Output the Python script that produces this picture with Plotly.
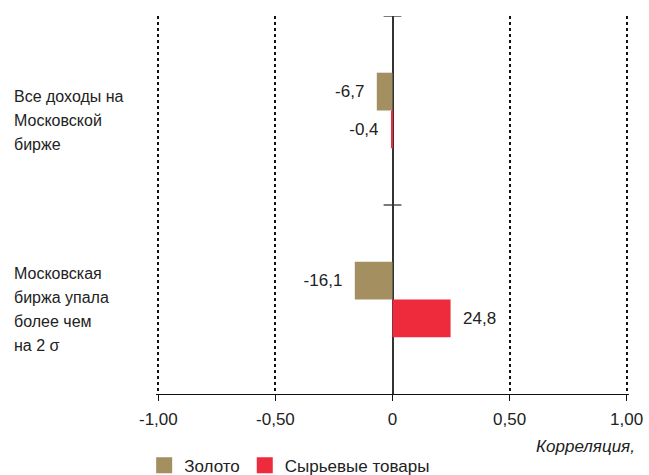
import plotly.graph_objects as go

categories = ["Все доходы на<br>Московской<br>бирже",
              "Московская<br>биржа упала<br>более чем<br>на 2 σ"]
series_names = ["Золото", "Сырьевые товары"]
gold_values = [-6.7, -16.1]
commod_values = [-0.4, 24.8]
colors = ["#A38F5F", "#EE2B3C"]
tick_vals = [-1, -0.5, 0, 0.5, 1]
tick_text = ["-1,00", "-0,50", "0", "0,50", "1,00"]
axis_title = "Корреляция,"

FONT = "Liberation Sans"
TXT = "#222222"


def fmt(v):
    s = f"{v:.1f}".replace(".", ",")
    pad = "\u00a0\u00a0"
    return s + pad if v < 0 else pad + s


ypos = list(range(len(categories)))
fig = go.Figure()
for name, vals, col in zip(series_names, [gold_values, commod_values], colors):
    fig.add_trace(go.Bar(
        name=name, orientation="h", y=ypos, x=[v / 100 for v in vals],
        marker=dict(color=col, line=dict(width=0)),
        text=[fmt(v) for v in vals], textposition="outside",
        textfont=dict(size=17, color=TXT, family=FONT),
        cliponaxis=False, showlegend=False,
    ))
# legend entries with larger square swatches
for name, col in zip(series_names, colors):
    fig.add_trace(go.Scatter(
        name=name, x=[None], y=[None], mode="markers",
        marker=dict(symbol="square", size=16, color=col), showlegend=True,
    ))

# category labels, left-aligned, line by line
LINE_H = 24
for i, c in enumerate(categories):
    lines = c.split("<br>")
    n = len(lines)
    for j, ln in enumerate(lines):
        fig.add_annotation(x=-0.3044, xref="paper", y=i, yref="y", text=ln,
                           showarrow=False, xanchor="left", align="left", yanchor="middle",
                           yshift=-((j - (n - 1) / 2) * LINE_H) - 10,
                           font=dict(size=16, color=TXT, family=FONT))

# ticks on zero line at category boundaries
for b in [i - 0.5 for i in ypos]:
    fig.add_shape(type="line", xref="x", yref="y", x0=-0.038, x1=0.038,
                  y0=b, y1=b, line=dict(color="#333333", width=1.3))

fig.add_annotation(x=1.017, xref="paper", y=-0.14, yref="paper", text=axis_title,
                   showarrow=False, xanchor="right", yanchor="middle",
                   font=dict(size=17, color=TXT, family=FONT, style="italic"))

fig.update_layout(
    width=649, height=475,
    margin=dict(l=156, r=20, t=16, b=81, autoexpand=False),
    paper_bgcolor="white", plot_bgcolor="white",
    barmode="group", bargap=0.6, bargroupgap=0,
    font=dict(family=FONT, size=17, color=TXT),
    showlegend=True,
    legend=dict(orientation="h", x=-0.025, xanchor="left", y=-0.19, yanchor="middle",
                font=dict(size=17, color=TXT, family=FONT),
                traceorder="normal", itemwidth=30, tracegroupgap=0),
    xaxis=dict(range=[-1.01, 1.01], tickvals=tick_vals, ticktext=tick_text,
               showgrid=True, gridcolor="#111111", griddash="dot", gridwidth=1.5,
               zeroline=True, zerolinecolor="#333333", zerolinewidth=1.5,
               showline=True, linecolor="#111111", linewidth=1.2,
               ticks="outside", ticklen=6, tickcolor="#111111", tickwidth=1.2,
               ticklabelstandoff=3,
               tickfont=dict(size=17, color=TXT, family=FONT), fixedrange=True),
    yaxis=dict(range=[len(categories) - 0.5, -0.5], showticklabels=False,
               showgrid=False, zeroline=False, showline=False, ticks=""),
)

fig.write_html("out.html")
